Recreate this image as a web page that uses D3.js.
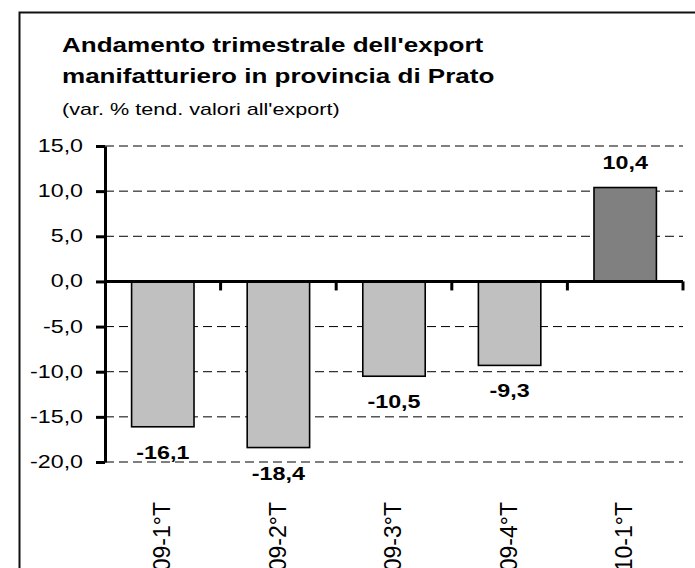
<!DOCTYPE html>
<html>
<head>
<meta charset="utf-8">
<script src="https://cdn.jsdelivr.net/npm/d3@7"></script>
<style>
  html, body { margin: 0; padding: 0; background: #fff; }
  svg { display: block; font-family: "Liberation Sans", Arial, sans-serif; }
</style>
</head>
<body>
<svg id="chart" width="695" height="568"></svg>
<script>
// Quarterly trend of manufacturing exports, province of Prato
const categories = ["09-1°T", "09-2°T", "09-3°T", "09-4°T", "10-1°T"];
const values = [-16.1, -18.4, -10.5, -9.3, 10.4];
const yTicks = [15, 10, 5, 0, -5, -10, -15, -20];
const titleLines = ["Andamento trimestrale dell'export", "manifatturiero in provincia di Prato"];
const subtitle = "(var. % tend. valori all'export)";

// horizontal text in this chart is drawn wide: each label gets a horizontal stretch
const SX = 1.29;

const svg = d3.select("#chart");
const fmt = v => d3.format(".1f")(v).replace(".", ",").replace("−", "-");

// outer frame (runs off the right and bottom edges)
svg.append("rect")
  .attr("x", 19.5).attr("y", 12.5)
  .attr("width", 720).attr("height", 600)
  .attr("fill", "#fff").attr("stroke", "#111").attr("stroke-width", 2);

// title block
const title = svg.append("g");
titleLines.forEach((t, i) => {
  title.append("g")
    .attr("transform", `translate(62,${52 + i * 31}) scale(1.24,1)`)
    .append("text")
    .attr("font-size", 21).attr("font-weight", "bold")
    .text(t);
});
title.append("g")
  .attr("transform", `translate(62,115) scale(1.27,1)`)
  .append("text")
  .attr("font-size", 17)
  .text(subtitle);

// scales
const x = d3.scaleBand().domain(categories).range([105, 683]).paddingInner(0.46).paddingOuter(0.23);
const xBand = d3.scaleBand().domain(categories).range([105, 683]);
const y = d3.scaleLinear().domain([-20, 15]).range([462, 146]);

// dashed grid
svg.append("g")
  .selectAll("line")
  .data(yTicks.filter(d => d !== 0))
  .join("line")
  .attr("x1", 105).attr("x2", 683)
  .attr("y1", d => y(d)).attr("y2", d => y(d))
  .attr("stroke", "#000").attr("stroke-width", 1)
  .attr("stroke-dasharray", "9,5");

// bars
svg.append("g")
  .selectAll("rect")
  .data(values)
  .join("rect")
  .attr("x", (d, i) => x(categories[i]))
  .attr("width", x.bandwidth())
  .attr("y", d => y(Math.max(0, d)))
  .attr("height", d => Math.abs(y(d) - y(0)))
  .attr("fill", d => d > 0 ? "#808080" : "#c0c0c0")
  .attr("stroke", "#000").attr("stroke-width", 1.6);

// value labels
svg.append("g")
  .selectAll("g")
  .data(values)
  .join("g")
  .attr("transform", (d, i) => {
    const cx = x(categories[i]) + x.bandwidth() / 2;
    const by = d > 0 ? y(d) - 19 : y(d) + 32;
    return `translate(${cx},${by}) scale(1.26,1)`;
  })
  .append("text")
  .attr("text-anchor", "middle")
  .attr("font-size", 18.5).attr("font-weight", "bold")
  .text(d => fmt(d));

// y axis: line and ticks from d3, labels stretched separately
const yAxis = svg.append("g")
  .attr("transform", "translate(105,0)")
  .call(d3.axisLeft(y).tickValues(yTicks).tickSize(9).tickSizeOuter(0).tickFormat(""));
yAxis.select(".domain").attr("stroke-width", 3);
yAxis.selectAll(".tick line").attr("stroke-width", 3);

svg.append("g")
  .selectAll("g")
  .data(yTicks)
  .join("g")
  .attr("transform", d => `translate(83,${y(d)}) scale(${SX},1)`)
  .append("text")
  .attr("text-anchor", "end")
  .attr("dy", "0.33em")
  .attr("font-size", 18)
  .text(d => fmt(d));

// x axis at zero, ticks at category boundaries
const xAxis = svg.append("g").attr("transform", `translate(0,${y(0)})`);
xAxis.append("line")
  .attr("x1", 105).attr("x2", 683)
  .attr("stroke", "#000").attr("stroke-width", 3);
xAxis.selectAll(".btick")
  .data(categories.slice(1).concat(["end"]))
  .join("line")
  .attr("class", "btick")
  .attr("x1", d => d === "end" ? 683 : xBand(d))
  .attr("x2", d => d === "end" ? 683 : xBand(d))
  .attr("y1", 0).attr("y2", 9)
  .attr("stroke", "#000").attr("stroke-width", 3);

// rotated category labels, reading bottom to top
svg.append("g")
  .selectAll("text")
  .data(categories)
  .join("text")
  .attr("transform", d => `translate(${x(d) + x.bandwidth() / 2 - 1},502) rotate(-90)`)
  .attr("text-anchor", "end")
  .attr("dy", "0.36em")
  .attr("font-size", 23)
  .text(d => d);
</script>
</body>
</html>
